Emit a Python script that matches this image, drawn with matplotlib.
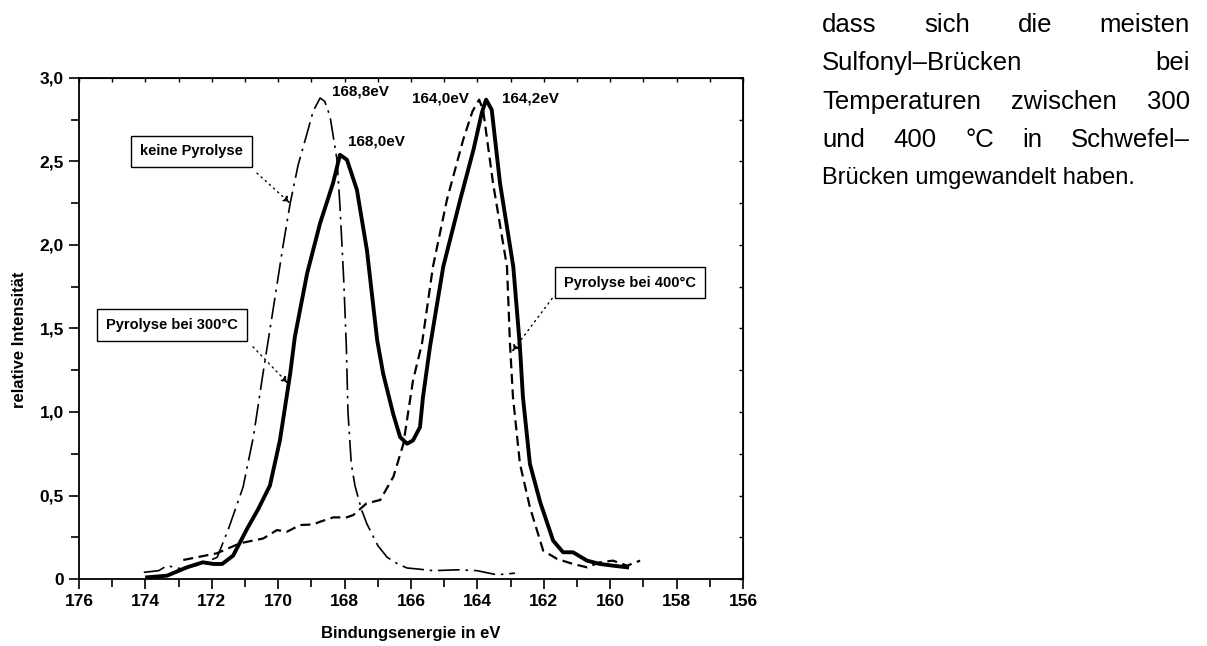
import matplotlib.pyplot as plt
from matplotlib.ticker import MultipleLocator, FuncFormatter

plt.rcParams['font.family'] = ['Liberation Sans', 'DejaVu Sans']

# keine Pyrolyse (dash-dot)
x_keine = [174.05, 173.6, 173.35, 172.9, 172.3, 171.84, 171.5, 171.06, 170.75, 170.46,
           170.15, 169.86, 169.64, 169.4, 169.13, 168.95, 168.74, 168.6, 168.44, 168.23,
           168.14, 168.03, 167.95, 167.9, 167.8, 167.69, 167.5, 167.33, 167.0, 166.72,
           166.4, 166.12, 165.8, 165.34, 164.6, 164.01, 163.41, 162.87]
y_keine = [0.04, 0.05, 0.08, 0.06, 0.09, 0.13, 0.3, 0.55, 0.85, 1.23,
           1.62, 1.99, 2.25, 2.48, 2.67, 2.8, 2.88, 2.86, 2.77, 2.51,
           2.23, 1.8, 1.4, 1.0, 0.69, 0.56, 0.42, 0.33, 0.2, 0.13,
           0.09, 0.066, 0.06, 0.05, 0.055, 0.05, 0.025, 0.035]

# Pyrolyse bei 300°C (thick solid)
x_300 = [173.95, 173.35, 172.75, 172.27, 171.95, 171.69, 171.36, 170.94, 170.6, 170.25,
         169.95, 169.64, 169.5, 169.13, 168.74, 168.35, 168.14, 167.93, 167.63, 167.33,
         167.02, 166.84, 166.54, 166.33, 166.12, 165.94, 165.73, 165.64, 165.43, 165.03,
         164.52, 164.12, 163.87, 163.74, 163.57, 163.32, 162.92, 162.72, 162.63, 162.42,
         162.11, 161.72, 161.42, 161.12, 160.7, 160.31, 159.92, 159.49]
y_300 = [0.01, 0.02, 0.07, 0.10, 0.09, 0.09, 0.14, 0.30, 0.42, 0.56,
         0.83, 1.23, 1.45, 1.83, 2.13, 2.37, 2.54, 2.51, 2.33, 1.97,
         1.43, 1.23, 0.99, 0.85, 0.81, 0.83, 0.91, 1.09, 1.39, 1.87,
         2.27, 2.57, 2.79, 2.87, 2.81, 2.37, 1.87, 1.39, 1.09, 0.69,
         0.46, 0.23, 0.16, 0.16, 0.11, 0.09, 0.08, 0.07]

# Pyrolyse bei 400°C (dashed)
x_400 = [172.86, 171.85, 171.15, 170.45, 170.04, 169.74, 169.34, 168.94, 168.74, 168.34,
         167.94, 167.74, 167.34, 166.93, 166.53, 166.23, 165.94, 165.67, 165.34, 164.92,
         164.43, 164.15, 163.95, 163.83, 163.53, 163.11, 163.02, 162.93, 162.72, 162.42,
         162.02, 161.6, 161.12, 160.7, 160.31, 159.92, 159.49, 159.1]
y_400 = [0.114, 0.154, 0.214, 0.243, 0.293, 0.283, 0.323, 0.327, 0.343, 0.369,
         0.369, 0.383, 0.453, 0.473, 0.613, 0.81, 1.19, 1.41, 1.87, 2.27,
         2.63, 2.8, 2.87, 2.81, 2.37, 1.87, 1.41, 1.09, 0.69, 0.43,
         0.17, 0.12, 0.09, 0.07, 0.10, 0.11, 0.08, 0.11]

# text next to the chart
body_lines = [
    ['dass', 'sich', 'die', 'meisten'],
    ['Sulfonyl–Brücken', 'bei'],
    ['Temperaturen', 'zwischen', '300'],
    ['und', '400', '°C', 'in', 'Schwefel–'],
]
last_line = 'Brücken umgewandelt haben.'

fig = plt.figure(figsize=(12.07, 6.46), dpi=100)
ax = fig.add_axes([0.0655, 0.1037, 0.5501, 0.7756])

ax.plot(x_keine, y_keine, color='black', lw=1.2, linestyle=(0, (13, 3.5, 1.5, 3.5)))
ax.plot(x_300, y_300, color='black', lw=2.8, solid_joinstyle='round')
ax.plot(x_400, y_400, color='black', lw=1.6, linestyle=(0, (4.5, 2.5)))

ax.set_xlim(176, 156)
ax.set_ylim(0, 3.0)
ax.xaxis.set_major_locator(MultipleLocator(2))
ax.xaxis.set_minor_locator(MultipleLocator(1))
ax.yaxis.set_major_locator(MultipleLocator(0.5))
ax.yaxis.set_minor_locator(MultipleLocator(0.25))
ax.yaxis.set_major_formatter(FuncFormatter(
    lambda v, p: '0' if abs(v) < 1e-9 else f'{v:.1f}'.replace('.', ',')))
ax.xaxis.set_major_formatter(FuncFormatter(lambda v, p: f'{v:.0f}'))

for s in ax.spines.values():
    s.set_linewidth(1.3)
ax.tick_params(which='both', direction='out', width=1.2, labelsize=12.5, pad=4)
ax.tick_params(which='major', length=7)
ax.tick_params(which='minor', length=6)
for lab in ax.get_xticklabels() + ax.get_yticklabels():
    lab.set_fontweight('bold')

top = ax.secondary_xaxis('top')
top.xaxis.set_major_locator(MultipleLocator(1))
top.tick_params(direction='in', length=3, width=1.0, labeltop=False)
right = ax.secondary_yaxis('right')
right.yaxis.set_major_locator(MultipleLocator(0.25))
right.tick_params(direction='in', length=3, width=1.0, labelright=False)

ax.set_xlabel('Bindungsenergie in eV', fontsize=12, fontweight='bold', labelpad=12)
ax.set_ylabel('relative Intensität', fontsize=12, fontweight='bold')
ax.yaxis.set_label_coords(-0.078, 0.477)

# peak labels
lab_kw = dict(fontsize=11, fontweight='bold', ha='left', va='center')
ax.text(168.38, 2.92, '168,8eV', **lab_kw)
ax.text(167.9, 2.62, '168,0eV', **lab_kw)
ax.text(165.97, 2.88, '164,0eV', **lab_kw)
ax.text(163.26, 2.88, '164,2eV', **lab_kw)

# boxed annotations with dotted arrows
box = dict(boxstyle='square,pad=0.6', fc='white', ec='black', lw=1.0)
arrow = dict(arrowstyle='-|>', linestyle=(0, (1, 3)), lw=1.0, color='black',
             mutation_scale=10, shrinkA=0, shrinkB=0)
ax.annotate('', xy=(169.64, 2.25), xytext=(170.64, 2.43), arrowprops=arrow)
ax.annotate('', xy=(169.7, 1.17), xytext=(170.76, 1.39), arrowprops=arrow)
ax.annotate('', xy=(162.96, 1.36), xytext=(161.75, 1.68), arrowprops=arrow)
ax.text(172.61, 2.56, 'keine Pyrolyse', fontsize=10.5, fontweight='bold',
        ha='center', va='center', bbox=box, zorder=5)
ax.text(173.2, 1.52, 'Pyrolyse bei 300°C', fontsize=10.5, fontweight='bold',
        ha='center', va='center', bbox=box, zorder=5)
ax.text(159.4, 1.775, 'Pyrolyse bei 400°C', fontsize=10.5, fontweight='bold',
        ha='center', va='center', bbox=box, zorder=5)

# justified paragraph, measured with the renderer
W, H = 1207, 646
left_px, right_px = 822, 1190
line_y = [25, 63, 102, 140, 178]
renderer = fig.canvas.get_renderer()
for words, yy in zip(body_lines, line_y):
    texts = [fig.text(0, 1 - yy / H, w, fontsize=18.5, ha='left', va='center')
             for w in words]
    widths = [t.get_window_extent(renderer).width for t in texts]
    gap = (right_px - left_px - sum(widths)) / (len(words) - 1)
    xx = left_px
    for t, wd in zip(texts, widths):
        t.set_x(xx / W)
        xx += wd + gap
fig.text(left_px / W, 1 - line_y[-1] / H, last_line, fontsize=17, ha='left', va='center')

fig.savefig('out.png', dpi=100)
